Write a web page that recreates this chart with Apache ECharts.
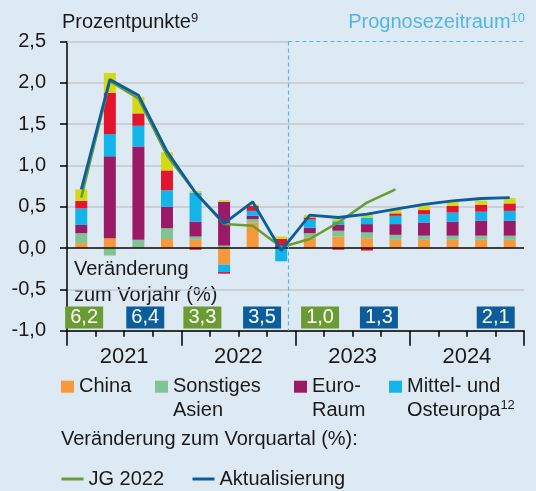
<!DOCTYPE html>
<html>
<head>
<meta charset="utf-8">
<script src="https://cdn.jsdelivr.net/npm/echarts@6/dist/echarts.min.js"></script>
<style>
html,body{margin:0;padding:0;background:#deeaf3;}
#c{width:536px;height:491px;}
</style>
</head>
<body>
<div id="c"></div>
<script>
// ---------- data ----------
const quarters = ['2021 Q1','2021 Q2','2021 Q3','2021 Q4','2022 Q1','2022 Q2','2022 Q3','2022 Q4',
                  '2023 Q1','2023 Q2','2023 Q3','2023 Q4','2024 Q1','2024 Q2','2024 Q3','2024 Q4'];
const years = ['2021','2022','2023','2024'];
const yTicks = [-1, -0.5, 0, 0.5, 1, 1.5, 2, 2.5];

const china      = [0.06, 0.12, 0.00, 0.11, 0.10, -0.20, 0.31, 0.00, 0.13, 0.14, 0.12, 0.10, 0.10, 0.10, 0.10, 0.10];
const sonstAsien = [0.12, -0.09, 0.10, 0.13, 0.04, 0.03, 0.04, 0.00, 0.05, 0.07, 0.07, 0.06, 0.05, 0.05, 0.05, 0.05];
const euroRaum   = [0.10, 0.99, 1.13, 0.26, 0.18, 0.53, 0.04, 0.06, 0.065, 0.07, 0.10, 0.13, 0.16, 0.17, 0.18, 0.18];
const moe        = [0.20, 0.27, 0.25, 0.20, 0.35, -0.09, 0.06, -0.16, 0.10, 0.045, 0.08, 0.10, 0.10, 0.11, 0.11, 0.12];
const usa        = [0.09, 0.50, 0.15, 0.24, -0.02, -0.02, 0.06, 0.05, 0.025, -0.02, -0.03, 0.03, 0.05, 0.08, 0.085, 0.09];
const uebrige    = [0.14, 0.24, 0.20, 0.22, 0.02, 0.02, 0.02, 0.03, 0.03, 0.03, 0.04, 0.045, 0.06, 0.05, 0.05, 0.065];

const jg2022     = [0.61, 2.02, 1.81, 1.12, 0.67, 0.29, 0.27, 0.01, 0.11, 0.31, 0.55, 0.71, null, null, null, null];
const aktual     = [0.71, 2.04, 1.85, 1.17, 0.67, 0.30, 0.56, -0.03, 0.40, 0.37, 0.41, 0.47, 0.53, 0.57, 0.60, 0.61];

// year-over-year boxes
const yoyValues = [6.2, 6.4, 3.3, 3.5, 1.0, 1.3, 2.1];
const yoyKind   = ['JG 2022','Aktualisierung','JG 2022','Aktualisierung','JG 2022','Aktualisierung','Aktualisierung'];
const yoyPos    = [0.6, 2.74, 4.74, 6.83, 8.86, 10.92, 15.01]; // position in quarter units
const yoyLevel  = -0.84;
const forecastStart = 7.75; // quarter units

// ---------- styles ----------
const C = {
  china:'#f7993a', asien:'#80c496', euro:'#9a1a66', moe:'#12b4ea', usa:'#e4142e', rest:'#d4d916',
  jg:'#6b9b33', akt:'#0b5d9c', txt:'#1a1a1a', prog:'#52b5e6', grid:'#c3c7cb'
};
const FONT = 'Liberation Sans, Arial, sans-serif';

const chart = echarts.init(document.getElementById('c'), null, {renderer:'canvas'});

function barSeries(name, data, color){
  return {name, type:'bar', stack:'total', data, xAxisIndex:0, yAxisIndex:0,
    barWidth:12, itemStyle:{color}, emphasis:{disabled:true}, z:2};
}
function fmt(v){ return v.toFixed(1).replace('.', ','); }

const boxData = yoyValues.map((v,i)=>({
  value:[yoyPos[i], yoyLevel], name: fmt(v),
  itemStyle:{color: yoyKind[i]==='JG 2022' ? C.jg : C.akt, opacity:1}
}));

function legendItem(name, left, top, twoLine, lineIcon){
  return {
    left, top, padding:0, itemGap:0,
    itemWidth: lineIcon ? 22 : 13, itemHeight: lineIcon ? 3 : 12,
    icon:'rect', selectedMode:false,
    data:[{name, textStyle: twoLine ? {padding:[24,0,0,0]} : {}}],
    formatter: n => n==='Mittel- und Osteuropa' ? 'Mittel- und\nOsteuropa{sup|12}' :
                    n==='Sonstiges Asien' ? 'Sonstiges\nAsien' :
                    n==='Euro-Raum' ? 'Euro-\nRaum' : n,
    textStyle:{fontFamily:FONT, fontSize:20, color:C.txt, lineHeight:24,
      rich:{sup:{fontSize:13, verticalAlign:'top', lineHeight:24, padding:[0,0,8,0]}}}
  };
}

const option = {
  backgroundColor:'#deeaf3',
  animation:false,
  textStyle:{fontFamily:FONT},
  grid:{left:67, right:12, top:41.5, bottom:160.3, containLabel:false},
  xAxis:[
    {type:'category', data:quarters, position:'bottom', boundaryGap:true,
     axisLine:{onZero:false, lineStyle:{color:'#000', width:1.5}},
     axisTick:{show:true, interval:0, length:6, lineStyle:{color:'#000', width:1.5}},
     axisLabel:{show:false}, splitLine:{show:false}},
    {type:'category', data:years, position:'bottom', boundaryGap:true,
     axisLine:{show:false, onZero:false},
     axisTick:{show:true, interval:0, length:15, lineStyle:{color:'#000', width:1.5}},
     axisLabel:{show:true, interval:0, fontSize:22, color:C.txt, margin:15, fontFamily:FONT},
     splitLine:{show:false}},
    {type:'value', min:0, max:16, show:false}
  ],
  yAxis:[
    {type:'value', min:yTicks[0], max:yTicks[yTicks.length-1], interval:0.5,
     axisLine:{show:true, onZero:false, lineStyle:{color:'#000', width:1.5}},
     axisTick:{show:true, length:7, lineStyle:{color:'#000', width:1.5}},
     axisLabel:{fontSize:20, color:C.txt, margin:21, fontFamily:FONT, formatter:v=>fmt(v)},
     splitLine:{show:true, showMaxLine:false, lineStyle:{color:C.grid, width:1.5}}}
  ],
  legend:[
    legendItem('China', 61, 374.7, false),
    legendItem('Sonstiges Asien', 155, 350.7, true),
    legendItem('Euro-Raum', 294, 350.7, true),
    legendItem('Mittel- und Osteuropa', 389, 350.7, true),
    legendItem('JG 2022', 61.5, 467, false, true),
    legendItem('Aktualisierung', 192.5, 467, false, true)
  ],
  graphic:[
    {type:'text', left:62, top:12, style:{text:'Prozentpunkte{s|9}', fontFamily:FONT, fontSize:20, fill:C.txt,
      rich:{s:{fontSize:13, verticalAlign:'top', padding:[0,0,8,0]}}}},
    {type:'text', right:11, top:12, style:{text:'Prognosezeitraum{s|10}', fontFamily:FONT, fontSize:20, fill:C.prog,
      rich:{s:{fontSize:13, verticalAlign:'top', padding:[0,0,8,0], fill:C.prog}}}},
    {type:'text', left:74, top:256, style:{text:'Veränderung\nzum Vorjahr (%)', fontFamily:FONT, fontSize:20, lineHeight:26, fill:C.txt}},
    {type:'text', left:61, top:429, style:{text:'Veränderung zum Vorquartal (%):', fontFamily:FONT, fontSize:20, fill:C.txt}}
  ],
  series:[
    barSeries('China', china, C.china),
    barSeries('Sonstiges Asien', sonstAsien, C.asien),
    barSeries('Euro-Raum', euroRaum, C.euro),
    barSeries('Mittel- und Osteuropa', moe, C.moe),
    barSeries('USA', usa, C.usa),
    barSeries('Übrige', uebrige, C.rest),
    {name:'JG 2022', type:'line', data:jg2022, xAxisIndex:0, yAxisIndex:0, symbol:'none',
     lineStyle:{color:C.jg, width:2.5}, itemStyle:{color:C.jg}, z:5, connectNulls:false},
    {name:'Aktualisierung', type:'line', data:aktual, xAxisIndex:0, yAxisIndex:0, symbol:'none',
     lineStyle:{color:C.akt, width:2.8}, itemStyle:{color:C.akt}, z:6},
    {name:'Vorjahr', type:'scatter', xAxisIndex:2, yAxisIndex:0, symbol:'rect', symbolSize:[38,22],
     data:boxData, z:7, itemStyle:{opacity:1},
     label:{show:true, position:'inside', formatter:p=>p.name, color:'#fff', fontSize:20, fontFamily:FONT},
     markLine:{silent:true, symbol:'none', label:{show:false},
       data:[
         [{coord:[0, yTicks[yTicks.length-1]], lineStyle:{color:C.grid, width:1.5, type:'solid'}},
          {coord:[forecastStart, yTicks[yTicks.length-1]]}],
         [{coord:[0, 0], lineStyle:{color:'#111', width:1.6, type:'solid'}},
          {coord:[16, 0]}],
         [{coord:[forecastStart, yTicks[yTicks.length-1]], lineStyle:{color:C.prog, width:1.2, type:[4,3]}},
          {coord:[16, yTicks[yTicks.length-1]]}],
         [{coord:[forecastStart, yTicks[yTicks.length-1]], lineStyle:{color:C.prog, width:1.2, type:[4,3]}},
          {coord:[forecastStart, yTicks[0]]}]
       ]}}
  ]
};
chart.setOption(option);
</script>
</body>
</html>
